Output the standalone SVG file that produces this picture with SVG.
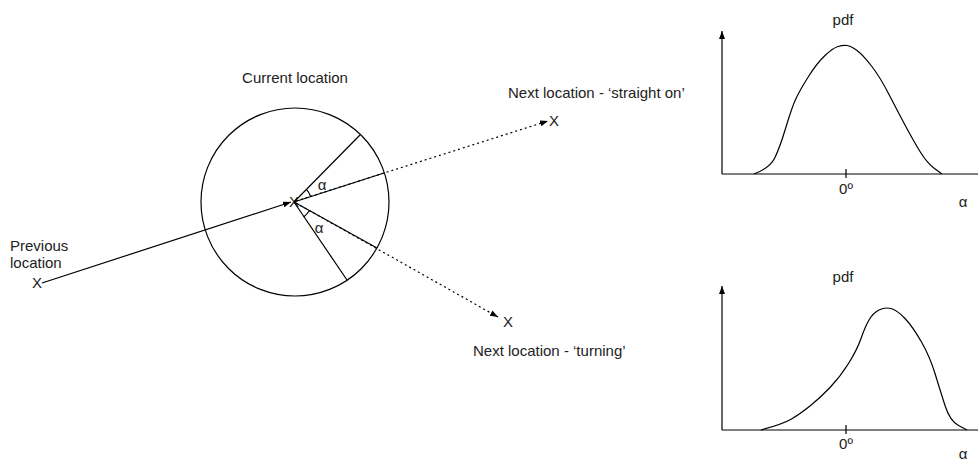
<svg xmlns="http://www.w3.org/2000/svg" width="978" height="464" viewBox="0 0 978 464">
<defs>
<marker id="ah" markerUnits="userSpaceOnUse" markerWidth="8" markerHeight="6" refX="8" refY="3" orient="auto">
<path d="M0,0 L8,3 L0,6 z" fill="#000"/>
</marker>
<style>
text{font-family:"Liberation Sans",Arial,sans-serif;font-size:15px;fill:#222}
.ln{stroke:#000;stroke-width:1.2;fill:none}
.dot{stroke:#000;stroke-width:1.2;fill:none;stroke-dasharray:2 3}
.mid{text-anchor:middle}
</style>
</defs>
<rect width="978" height="464" fill="#fff"/>

<g id="circle-node">
<circle cx="295" cy="202" r="94" class="ln"/>
<text class="mid" x="295" y="83">Current location</text>
<text class="mid" x="294" y="207" font-size="16">X</text>
<line class="ln" x1="294" y1="202" x2="360" y2="135"/>
<line class="ln" x1="294" y1="202" x2="347" y2="280"/>
<line class="ln" x1="294" y1="202" x2="384" y2="173"/>
<line class="ln" x1="294" y1="202" x2="377" y2="248"/>
<path class="ln" d="M306.1,189.1 A18,18 0 0 1 310.6,196.5"/>
<path class="ln" d="M309.2,210.8 A18,18 0 0 1 303.6,216.9"/>
<text class="mid" x="322" y="190" font-size="13">α</text>
<text class="mid" x="319" y="233" font-size="13">α</text>
</g>

<g id="previous">
<text x="10" y="251">Previous</text>
<text x="10" y="268">location</text>
<text class="mid" x="37" y="288">X</text>
</g>

<g id="straight">
<text x="508" y="98">Next location - ‘straight on’</text>
<text class="mid" x="554" y="126">X</text>
</g>

<g id="turning">
<text x="473" y="356">Next location - ‘turning’</text>
<text class="mid" x="508" y="327">X</text>
</g>

<g id="connectors">
<line class="ln" x1="42" y1="283" x2="291" y2="202" marker-end="url(#ah)"/>
<line class="dot" x1="296" y1="201" x2="548" y2="121" marker-end="url(#ah)"/>
<line class="dot" x1="296" y1="203" x2="498" y2="317" marker-end="url(#ah)"/>
</g>

<g id="chart-top">
<text class="mid" x="843" y="25">pdf</text>
<line class="ln" x1="722" y1="174" x2="722" y2="31" marker-end="url(#ah)"/>
<line class="ln" x1="722" y1="174" x2="978" y2="174"/>
<line class="ln" x1="846" y1="169" x2="846" y2="178"/>
<text class="mid" x="846" y="194">0º</text>
<text class="mid" x="963" y="207">α</text>
<path class="ln" d="M754,174 Q770,168 775,157.5 Q780,147 786,127 Q792,107 796,98.5 Q800,90 808.5,76.5 Q817,63 825,55.5 Q833,48 838,46.5 Q843,45 847,45.5 Q851,46 857,50.5 Q863,55 871.5,66 Q880,77 888.5,93.5 Q897,110 905,125 Q913,140 920,151.5 Q927,163 934.5,168.5 L942,174"/>
</g>

<g id="chart-bottom">
<text class="mid" x="843" y="282">pdf</text>
<line class="ln" x1="722" y1="430" x2="722" y2="286" marker-end="url(#ah)"/>
<line class="ln" x1="722" y1="430" x2="978" y2="430"/>
<line class="ln" x1="846" y1="425" x2="846" y2="434"/>
<text class="mid" x="846" y="449">0º</text>
<text class="mid" x="963" y="459" font-size="14">α</text>
<path class="ln" d="M761,430 Q783,424 791.5,419 Q800,414 810,406 Q820,398 830,387.5 Q840,377 848.5,363.5 Q857,350 861,338.5 Q865,327 869,320 Q873,313 879,310 Q885,307 891,308.5 Q897,310 905,318.5 Q913,327 921.5,342 Q930,357 935,373.5 Q940,390 945,405.5 Q950,421 958.5,425.5 L967,430"/>
</g>
</svg>
